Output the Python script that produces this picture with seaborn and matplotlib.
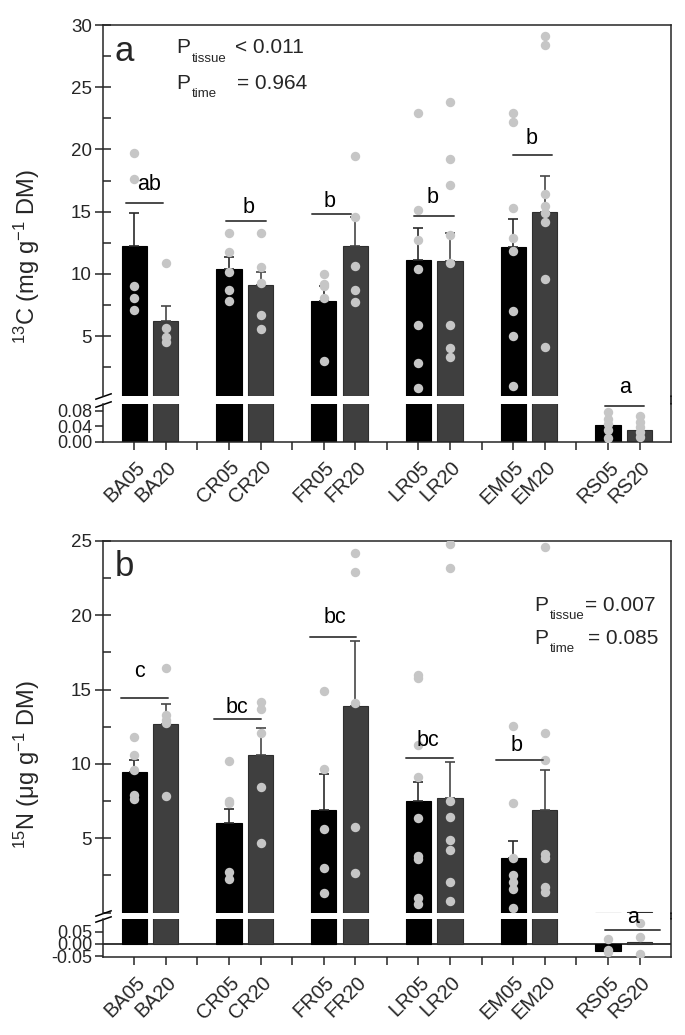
import numpy as np
import pandas as pd
import matplotlib
matplotlib.use("Agg")
import matplotlib.pyplot as plt
import matplotlib.transforms as mtransforms
from matplotlib.lines import Line2D
from matplotlib.ticker import MultipleLocator
import seaborn as sns

# ---------------- data ----------------
labels = ["BA05", "BA20", "CR05", "CR20", "FR05", "FR20",
          "LR05", "LR20", "EM05", "EM20", "RS05", "RS20"]
times = ["05", "20"] * 6
positions = [1, 2, 4, 5, 7, 8, 10, 11, 13, 14, 16, 17]

# panel a: 13C (mg g-1 DM)
c_mean = [12.27, 6.25, 10.37, 9.09, 7.80, 12.22, 11.12, 11.07, 12.19, 14.95, 0.043, 0.030]
c_se = [2.66, 1.21, 0.97, 1.04, 1.20, 2.33, 2.55, 2.25, 2.25, 2.95, 0.0, 0.0]
c_points = {
    "BA05": [19.7, 17.6, 9.0, 8.05, 7.1],
    "BA20": [10.86, 5.64, 4.91, 4.5],
    "CR05": [13.32, 11.74, 10.19, 8.71, 7.8],
    "CR20": [13.32, 10.59, 9.3, 6.68, 5.61],
    "FR05": [9.97, 9.2, 9.0, 8.05, 3.01],
    "FR20": [19.5, 14.55, 10.64, 8.71, 7.75],
    "LR05": [22.96, 15.14, 12.73, 10.37, 5.88, 2.83, 0.87],
    "LR20": [23.8, 19.21, 17.15, 13.13, 10.86, 5.9, 4.03, 3.31],
    "EM05": [22.96, 22.24, 15.28, 12.87, 11.87, 7.03, 5.05, 1.03],
    "EM20": [29.14, 28.39, 16.4, 15.49, 14.87, 14.15, 9.6, 4.16],
    "RS05": [0.076, 0.06, 0.047, 0.03, 0.01],
    "RS20": [0.066, 0.052, 0.039, 0.026, 0.013],
}
c_letters = ["ab", "b", "b", "b", "b", "a"]
c_ptext = [("tissue", "< 0.011"), ("time", "= 0.964")]

# panel b: 15N (ug g-1 DM)
n_mean = [9.48, 12.66, 6.00, 10.62, 6.88, 13.92, 7.52, 7.68, 3.69, 6.90, -0.027, 0.007]
n_se = [0.78, 1.37, 0.96, 1.82, 2.46, 4.37, 1.28, 2.47, 1.12, 2.67, 0.0, 0.0]
n_points = {
    "BA05": [11.79, 10.6, 9.59, 7.91, 7.64],
    "BA20": [16.48, 13.29, 12.95, 12.73, 7.84],
    "CR05": [10.22, 7.5, 7.35, 2.75, 2.24],
    "CR20": [14.19, 13.67, 12.1, 8.47, 4.7],
    "FR05": [14.88, 9.66, 5.6, 2.97, 1.29],
    "FR20": [24.21, 22.91, 14.12, 5.73, 2.68],
    "LR05": [15.98, 15.8, 11.27, 9.14, 6.38, 3.82, 3.6, 0.95, 0.55],
    "LR20": [24.78, 23.16, 7.52, 6.45, 4.88, 4.2, 2.03, 0.8],
    "EM05": [12.57, 7.39, 3.65, 2.52, 2.07, 1.56, 0.3],
    "EM20": [24.62, 12.06, 10.26, 3.92, 3.65, 1.74, 1.4],
    "RS05": [0.02, -0.025, -0.034],
    "RS20": [0.087, 0.03, -0.041],
}
n_letters = ["c", "bc", "bc", "bc", "b", "a"]
n_ptext = [("tissue", "= 0.007"), ("time", "= 0.085")]

# ---------------- layout (annotation geometry) ----------------
c_lines = [(0.74, 1.92, 15.73, "up"), (3.90, 5.16, 14.26, "up"), (6.63, 7.85, 14.79, "up"),
           (9.86, 11.12, 14.68, "up"), (13.0, 14.24, 19.53, "up"), (15.9, 17.13, 0.092, "lo")]
c_letter_xy = [(1.47, 16.75, "up"), (4.61, 14.88, "up"), (7.17, 15.4, "up"),
               (10.45, 15.73, "up"), (13.58, 20.44, "up"), (16.55, 0.47, "up")]
n_lines = [(0.58, 2.08, 14.46, "up"), (3.53, 5.03, 13.0, "up"), (6.57, 8.02, 18.52, "up"),
           (9.60, 11.08, 10.42, "up"), (12.44, 13.95, 10.26, "up"), (15.92, 17.64, 0.057, "lo")]
n_letter_xy = [(1.16, 15.87, "up"), (4.24, 13.43, "up"), (7.35, 19.5, "up"),
               (10.31, 11.22, "up"), (13.1, 10.87, "up"), (16.8, 0.085, "lo")]

W_PX, H_PX = 685, 1035

sns.set_style("ticks")
plt.rcParams["font.family"] = ["Liberation Sans", "DejaVu Sans"]
plt.rcParams["mathtext.fontset"] = "custom"
plt.rcParams["mathtext.rm"] = "Liberation Sans"
plt.rcParams["mathtext.it"] = "Liberation Sans:italic"
plt.rcParams["mathtext.default"] = "regular"
plt.rcParams["axes.linewidth"] = 1.1

fig = plt.figure(figsize=(W_PX / 100, H_PX / 100), dpi=100)


def fx(px):
    return px / W_PX


def fy(py):
    return 1 - py / H_PX


def make_axes(top_up, bot_up, top_lo, bot_lo):
    L = fx(102.6)
    Wd = fx(671.2) - L
    ax_up = fig.add_axes([L, fy(bot_up), Wd, fy(top_up) - fy(bot_up)])
    ax_lo = fig.add_axes([L, fy(bot_lo), Wd, fy(top_lo) - fy(bot_lo)])
    fig.add_artist(Line2D([L + Wd, L + Wd], [fy(top_lo), fy(bot_up)],
                          transform=fig.transFigure, color="black", lw=1.1))
    return ax_up, ax_lo


PAL = {"05": "#000000", "20": "#3f3f3f"}
ERRC = {"05": "#2a2a2a", "20": "#474747"}
PTC = "#c6c6c6"


def draw_panel(ax_up, ax_lo, means, ses, points, ylim_up, ylim_lo, lines, letters, letter_xy):
    df = pd.DataFrame({"pos": positions, "mean": means, "time": times, "label": labels})
    rows = []
    for lab, p in zip(labels, positions):
        for v in points[lab]:
            rows.append({"pos": p, "val": v})
    dfp = pd.DataFrame(rows)
    split = ylim_lo[1]
    for ax, pts in ((ax_up, dfp[dfp["val"] > split]), (ax_lo, dfp[dfp["val"] <= split])):
        sns.barplot(data=df, x="pos", y="mean", hue="time", palette=PAL, native_scale=True,
                    dodge=False, width=0.8, errorbar=None, legend=False, saturation=1,
                    ax=ax, zorder=2)
        for patch in ax.patches:
            fc = patch.get_facecolor()
            patch.set_edgecolor("#000000" if fc[0] < 0.1 else "#2e2e2e")
            patch.set_linewidth(0.8)
        for t in ("05", "20"):
            sel = (df["time"] == t) & (np.array(ses) > 0)
            ax.errorbar(df["pos"][sel], df["mean"][sel],
                        yerr=[np.zeros(sel.sum()), np.array(ses)[sel.values]],
                        fmt="none", ecolor=ERRC[t], elinewidth=1.2, capsize=3.6,
                        capthick=1.2, zorder=3)
        sns.scatterplot(data=pts, x="pos", y="val", color=PTC, s=46, linewidth=0,
                        legend=False, ax=ax, zorder=4)
        ax.set_xlim(0, 18)
        ax.set_xlabel("")
        ax.set_ylabel("")
    ax_up.set_ylim(*ylim_up)
    ax_lo.set_ylim(*ylim_lo)

    for (x0, x1, y, which), let, (lx, ly, lw_) in zip(lines, letters, letter_xy):
        a = ax_up if which == "up" else ax_lo
        a.plot([x0, x1], [y, y], color="#4a4a4a", lw=1.4, zorder=5, clip_on=False)
        b = ax_up if lw_ == "up" else ax_lo
        b.text(lx, ly, let, ha="center", va="baseline", fontsize=15.5, color="black",
               clip_on=False, zorder=6)

    ax_up.spines["bottom"].set_visible(False)
    ax_lo.spines["top"].set_visible(False)
    for ax in (ax_up, ax_lo):
        ax.spines["right"].set_visible(True)
        for s in ax.spines.values():
            s.set_linewidth(1.1)
    ax_up.tick_params(axis="x", bottom=False, top=False, labelbottom=False)
    ax_up.yaxis.set_minor_locator(MultipleLocator(2.5))
    ax_up.tick_params(axis="y", which="major", direction="inout", length=11.5, width=1.1,
                      labelsize=13.5, pad=2, right=False)
    ax_up.tick_params(axis="y", which="minor", direction="in", length=5.8, width=1.1,
                      right=False, left=True)
    ax_lo.tick_params(axis="y", which="major", direction="out", length=5.8, width=1.1,
                      labelsize=13, pad=1.5, right=False)
    ax_lo.tick_params(axis="x", which="major", direction="out", length=5.8, width=1.1,
                      labelsize=14.5, pad=2, top=False)
    ticklabels = []
    for t in range(1, 18):
        ticklabels.append(labels[positions.index(t)] if t in positions else "")
    ax_lo.set_xticks(list(range(1, 18)), labels=ticklabels)
    offset = mtransforms.ScaledTranslation(1 / 100, -5 / 100, fig.dpi_scale_trans)
    for tl in ax_lo.get_xticklabels():
        tl.set_rotation(45)
        tl.set_ha("right")
        tl.set_va("top")
        tl.set_rotation_mode("anchor")
        tl.set_transform(tl.get_transform() + offset)

    kw = dict(marker=[(-1, -0.35), (1, 0.35)], markersize=12, linestyle="none",
              color="k", mec="k", mew=1.1, clip_on=False)
    ax_up.plot([0], [0], transform=ax_up.transAxes, **kw)
    ax_lo.plot([0], [1], transform=ax_lo.transAxes, **kw)


def p_text(x_p, x_sub, x_vals, bases, ptext):
    for (sub, val), base, x_val in zip(ptext, bases, x_vals):
        fig.text(fx(x_p), fy(base), "P", fontsize=15, va="baseline", ha="left")
        fig.text(fx(x_sub), fy(base + 8.3), sub, fontsize=9.5, va="baseline", ha="left")
        fig.text(fx(x_val), fy(base), val, fontsize=15, va="baseline", ha="left")


# ---------------- panel a ----------------
a_up, a_lo = make_axes(25, 396, 404, 441.7)
draw_panel(a_up, a_lo, c_mean, c_se, c_points, (0.2, 30), (0, 0.0975),
           c_lines, c_letters, c_letter_xy)
a_up.set_yticks([5, 10, 15, 20, 25, 30])
a_lo.set_yticks([0, 0.04, 0.08], labels=["0.00", "0.04", "0.08"])
fig.text(fx(115), fy(60.7), "a", fontsize=25, va="baseline", ha="left")
p_text(176.7, 191.7, (235, 237), (53.3, 89), c_ptext)
fig.text(fx(27), fy(257), r"$^{13}$C (mg g$^{-1}$ DM)", rotation=90, fontsize=17,
         ha="center", va="center")

# ---------------- panel b ----------------
b_up, b_lo = make_axes(541, 912.5, 919, 957)
draw_panel(b_up, b_lo, n_mean, n_se, n_points, (0, 25), (-0.0533, 0.1025),
           n_lines, n_letters, n_letter_xy)
b_up.set_yticks([5, 10, 15, 20, 25])
b_lo.set_yticks([-0.05, 0, 0.05], labels=["-0.05", "0.00", "0.05"])
b_lo.axhline(0, color="black", lw=1.1, zorder=1)
fig.text(fx(115), fy(575.7), "b", fontsize=25, va="baseline", ha="left")
p_text(534, 550, (585, 588), (611, 644), n_ptext)
fig.text(fx(27), fy(765), r"$^{15}$N (μg g$^{-1}$ DM)", rotation=90, fontsize=17,
         ha="center", va="center")

fig.savefig("out.png", dpi=100, facecolor="white")
